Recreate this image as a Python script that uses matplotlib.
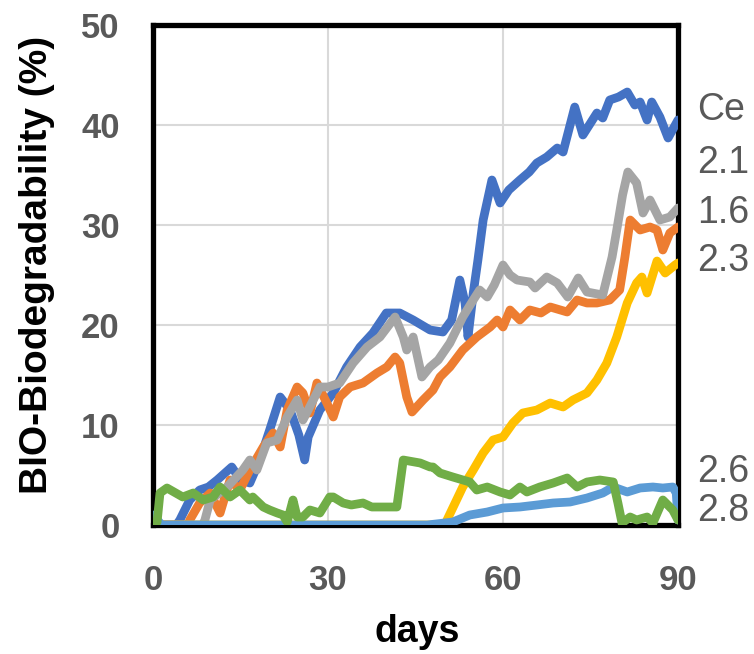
import matplotlib
matplotlib.use("Agg")
import matplotlib.pyplot as plt

# ---- data ----
ce_days = [0, 4, 4.6, 6.3, 8, 9.5, 11, 13.5, 15, 16.6, 18.3, 20, 21.8, 23.5, 25, 26, 26.6, 28.6, 30.9, 33.2,
           35.5, 37.7, 40, 42.3, 44.6, 47.5, 49.7, 51.2, 52.6, 53.5, 54, 54.9, 55.7, 56.6, 58.1, 59.5, 61, 62.9,
           64.5, 65.8, 67.5, 69.3, 70.3, 72.3, 73.7, 76.1, 77.1, 78.3, 79.8, 81.3, 82.6, 83.5, 84.7, 85.5, 86.9,
           88.3, 90]
ce_vals = [0, 0, 0.5, 2.5, 3.5, 3.8, 4.5, 5.8, 4.5, 4.2, 6.5, 9.5, 12.8, 11.5, 9, 6.5, 8.8, 11.5, 13.2, 15.8,
           17.8, 19.2, 21.2, 21.2, 20.5, 19.5, 19.3, 20.5, 24.5, 22.2, 18.8, 23.2, 26.5, 30.5, 34.5, 32.2, 33.5, 34.5,
           35.3, 36.2, 36.8, 37.7, 37.3, 41.8, 39, 41.2, 40.7, 42.5, 42.8, 43.3, 42, 42.3, 40.5, 42.3, 40.8,
           38.7, 40.5]

gray_days = [0, 8.5, 8.9, 9.8, 12.7, 15.4, 16.6, 17.8, 19.5, 21.3, 23, 24.7, 25.7, 26.6, 28.6, 30, 32, 34.3, 36.7,
             38.9, 41.5, 42.9, 43.5, 44.6, 46.1, 47.5, 48.9, 50.9, 53.1, 54.9, 56, 57.3, 58.5, 60, 61.2, 62.4, 64.6,
             65.5, 67.5, 69.3, 71.1, 72.9, 74.4, 77.1, 78.7, 79.5, 80.5, 81.4, 82.9, 84, 85.2, 86.9, 88.6, 90]
gray_vals = [0, 0, 0.5, 2.5, 3.8, 5.5, 6.5, 5.5, 8.2, 8.5, 10.8, 12.5, 10.5, 11.5, 13.8, 13.8, 14.2, 16.2, 17.8,
             18.8, 20.8, 18.8, 17.5, 18.8, 14.8, 15.8, 16.5, 18.2, 20.8, 22.5, 23.5, 22.8, 24.0, 26, 25.0, 24.5, 24.3,
             23.7, 24.8, 24.2, 22.8, 24.7, 23.3, 23, 26.8, 29.5, 33, 35.3, 34.2, 31.2, 32.5, 30.5, 30.8, 31.7]

orange_days = [0, 6, 6.3, 8, 9.8, 11.5, 13.2, 14.9, 16.6, 18.9, 20.6, 21.8, 23, 24.7, 25.7, 26.9, 28.1, 29.8, 30.9,
               32, 33.8, 36, 38.4, 40.1, 41.5, 42.3, 43.5, 44.4, 46.3, 48, 49.2, 50.9, 53.1, 55.5, 57.8, 59, 60,
               61.2, 62.9, 64.6, 66.5, 68.1, 71, 72.7, 74.4, 76.1, 78.3, 80, 80.9, 81.8, 83.5, 85.2, 86.4, 87.4,
               88.6, 90]
orange_vals = [0, 0, 0.5, 2.2, 3.2, 1.2, 4.5, 3.5, 5.5, 7.8, 9.2, 7.8, 11.5, 13.8, 13.2, 11.2, 14.2, 12.2, 10.8,
               12.8, 13.8, 14.2, 15.2, 15.8, 16.8, 16.2, 12.8, 11.3, 12.5, 13.5, 14.8, 15.8, 17.5, 18.8, 19.8, 20.5, 19.8,
               21.5, 20.5, 21.5, 21.2, 21.8, 21.3, 22.5, 22.2, 22.2, 22.5, 23.5, 26.8, 30.5, 29.5, 29.8, 29.5, 27.5,
               29.2, 29.8]

yellow_days = [0, 50, 50.4, 53.1, 54.9, 56.6, 58.3, 60, 61.7, 63.4, 65.8, 68.1, 70.3, 72, 74.4, 76.1, 77.8, 79.5,
               81.3, 82.9, 83.8, 84.7, 86.4, 87.8, 89.5, 90]
yellow_vals = [0, 0, 0.5, 3.8, 5.5, 7.2, 8.5, 8.8, 10.2, 11.2, 11.5, 12.2, 11.8, 12.5, 13.2, 14.5, 16.2, 18.8,
               22.2, 24.2, 24.8, 23.2, 26.4, 25.2, 26, 26.2]

lblue_days = [0, 1.5, 47, 51.4, 54.3, 57.3, 60, 62.9, 65.8, 68.6, 71.5, 74.4, 77.1, 78.9, 81.3, 83.5, 85.7, 87.4,
              89.1, 89.7, 90]
lblue_vals = [1.0, 0, 0, 0.3, 1.0, 1.3, 1.7, 1.8, 2.0, 2.2, 2.3, 2.7, 3.2, 3.8, 3.3, 3.7, 3.8, 3.7, 3.8, 3.2, 0.5]

green_days = [0, 0.7, 1.2, 2.4, 5.1, 6.9, 8.6, 10.3, 11.5, 13.2, 14.9, 16.6, 17.1, 18.9, 20, 21.3, 22.3, 23, 24,
              24.7, 25.7, 26.9, 28.6, 30.3, 30.9, 32.6, 34, 36, 37.5, 39.4, 41.8, 42.9, 45.8, 47.5, 48, 49.2, 51.4,
              54.3, 55.5, 57.3, 59.5, 61.2, 62.9, 64.1, 66.3, 68.6, 71, 72.7, 74.4, 76.6, 78.9, 79.7, 80.4, 81.8,
              82.9, 84.7, 85.7, 87.4, 89.1, 90]
green_vals = [0, 0.3, 3.2, 3.7, 2.8, 3.2, 2.5, 2.8, 3.8, 2.8, 3.5, 2.5, 2.8, 1.8, 1.5, 1.2, 1.0, 0.3, 2.5,
              0.8, 0.8, 1.5, 1.2, 2.8, 2.8, 2.2, 2.0, 2.2, 1.8, 1.8, 1.8, 6.5, 6.2, 5.8, 5.8, 5.2, 4.8,
              4.3, 3.5, 3.8, 3.3, 3.0, 3.8, 3.3, 3.8, 4.2, 4.7, 3.8, 4.3, 4.5, 4.3, 2.2, 0.2, 0.8,
              0.5, 0.8, 0.2, 2.5, 1.5, 0.5]

series_labels = ["Ce", "2.1", "1.6", "2.3", "2.6", "2.8"]
label_values = [41.5, 36.2, 31.2, 26.4, 5.3, 1.4]

x_ticks = [0, 30, 60, 90]
y_ticks = [0, 10, 20, 30, 40, 50]

# ---- plot ----
plt.rcParams['font.family'] = ['Liberation Sans', 'DejaVu Sans']
fig = plt.figure(figsize=(7.54, 6.54), dpi=100)
ax = fig.add_axes([153/754, 1 - 525/654, (678-153)/754, (525-25)/654])

lw = 6.3
series = [
    (ce_days, ce_vals, "#4472C4"),
    (orange_days, orange_vals, "#ED7D31"),
    (gray_days, gray_vals, "#A5A5A5"),
    (yellow_days, yellow_vals, "#FFC000"),
    (lblue_days, lblue_vals, "#5B9BD5"),
    (green_days, green_vals, "#70AD47"),
]
for d, v, c in series:
    ax.plot(d, v, color=c, lw=lw, solid_joinstyle='round', solid_capstyle='round', zorder=3)

ax.set_xlim(0, 90)
ax.set_ylim(0, 50)
ax.set_xticks(x_ticks)
ax.set_yticks(y_ticks)
ax.grid(True, color="#D9D9D9", lw=1.5, zorder=0)
ax.set_axisbelow(True)
for s in ax.spines.values():
    s.set_linewidth(3.8)
    s.set_color("black")
    s.set_zorder(2.5)
ax.tick_params(length=0)
ax.tick_params(axis='y', pad=24)
ax.tick_params(axis='x', pad=28)
for t in ax.get_xticklabels() + ax.get_yticklabels():
    t.set_fontsize(25)
    t.set_fontweight('bold')
    t.set_color("#595959")

for lab, val in zip(series_labels, label_values):
    ax.text(93.3, val, lab, fontsize=27, color="#595959", va='center', ha='left', clip_on=False)

fig.text(417/754, 1 - 632/654, "days", fontsize=27, fontweight='bold', ha='center', va='center')
fig.text(37/754, 1 - 265/654, "BIO-Biodegradability (%)", fontsize=28, fontweight='bold',
         rotation=90, ha='center', va='center')

fig.savefig("out.png", dpi=100)
